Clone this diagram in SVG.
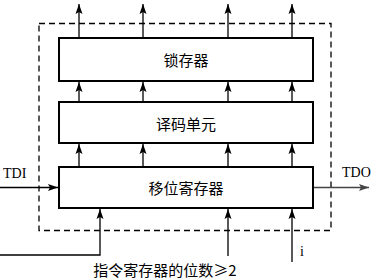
<svg xmlns="http://www.w3.org/2000/svg" width="372" height="280" viewBox="0 0 372 280">
<style>
.box{fill:#fff;stroke:#000;stroke-width:2}
.ln{fill:none;stroke:#000;stroke-width:1.3}
.lbl{font-family:"Noto Sans CJK SC","Noto Sans",sans-serif;font-size:15px;fill:#000;text-anchor:middle}
.en{font-family:"Liberation Serif",serif;font-size:14px;fill:#000}
</style>
<defs>
<marker id="ah" viewBox="0 0 10 10" refX="10" refY="5" markerWidth="10" markerHeight="10" markerUnits="userSpaceOnUse" orient="auto"><path d="M0,1.5 L10,5 L0,8.5 L2,5 Z" fill="#000"/></marker>
<marker id="ahg" viewBox="0 0 10 10" refX="10" refY="5" markerWidth="10" markerHeight="10" markerUnits="userSpaceOnUse" orient="auto"><path d="M0,1.5 L10,5 L0,8.5 L2,5 Z" fill="#444"/></marker>
</defs>
<rect x="39" y="23.5" width="292" height="207" fill="none" stroke="#000" stroke-width="1.3" stroke-dasharray="6,4"/>
<g id="connectors">
<path class="ln" d="M79,38 V4" marker-end="url(#ah)"/>
<path class="ln" d="M143,38 V4" marker-end="url(#ah)"/>
<path class="ln" d="M228,38 V4" marker-end="url(#ah)"/>
<path class="ln" d="M292,38 V4" marker-end="url(#ah)"/>
<path class="ln" d="M79,102 V82" marker-end="url(#ah)"/>
<path class="ln" d="M143,102 V82" marker-end="url(#ah)"/>
<path class="ln" d="M228,102 V82" marker-end="url(#ah)"/>
<path class="ln" d="M292,102 V82" marker-end="url(#ah)"/>
<path class="ln" d="M79,167 V144" marker-end="url(#ah)"/>
<path class="ln" d="M143,167 V144" marker-end="url(#ah)"/>
<path class="ln" d="M228,167 V144" marker-end="url(#ah)"/>
<path class="ln" d="M292,167 V144" marker-end="url(#ah)"/>
<path class="ln" d="M0,255 H100 V209" marker-end="url(#ah)"/>
<path class="ln" d="M228,256 V209" marker-end="url(#ah)"/>
<path class="ln" d="M292,262 V209" marker-end="url(#ah)"/>
<path class="ln" d="M0,187.5 H58" marker-end="url(#ah)"/>
<path d="M314,187.5 H369" fill="none" stroke="#444" stroke-width="1.3" marker-end="url(#ahg)"/>
</g>
<g id="latch"><rect class="box" x="59" y="38" width="254" height="43"/><text class="lbl" x="186" y="66">锁存器</text></g>
<g id="decode"><rect class="box" x="59" y="102" width="254" height="41"/><text class="lbl" x="186" y="130">译码单元</text></g>
<g id="shift"><rect class="box" x="59" y="167" width="254" height="41"/><text class="lbl" x="186" y="194">移位寄存器</text></g>
<g id="tdi"><text class="en" x="3" y="178">TDI</text></g>
<g id="tdo"><text class="en" x="342" y="177">TDO</text></g>
<text class="en" x="300" y="256" font-size="10">i</text>
<text class="lbl" x="165" y="276" font-size="15">指令寄存器的位数≥2</text>
</svg>
